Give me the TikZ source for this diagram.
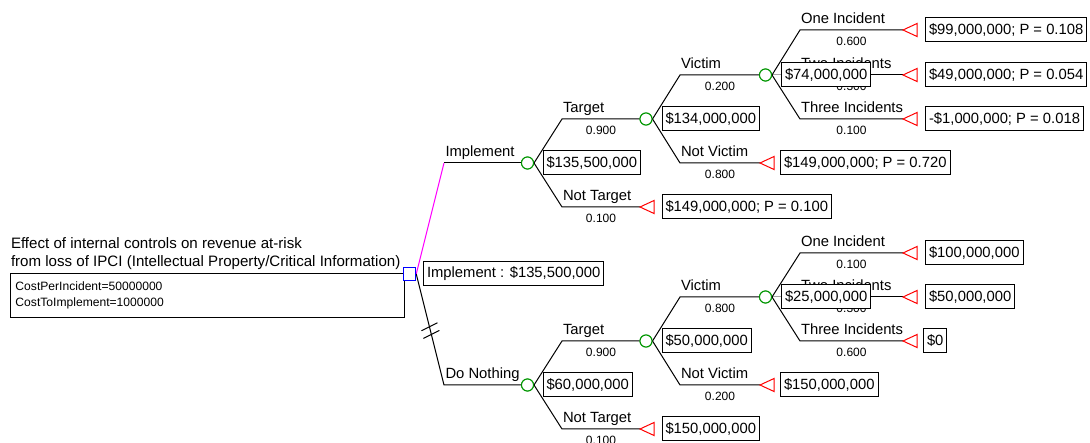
\documentclass[tikz,border=0pt]{standalone}
\usepackage{fontspec}
\setmainfont{Liberation Sans}
\definecolor{mag}{RGB}{255,0,255}
\definecolor{cgreen}{RGB}{0,150,0}
\definecolor{tred}{RGB}{255,0,0}
\definecolor{dblue}{RGB}{0,0,255}
\tikzset{
  lbl/.style={font=\fontsize{14.8}{16.7}\selectfont, anchor=base west, inner sep=0pt},
  prb/.style={font=\fontsize{12}{14}\selectfont, anchor=base, inner sep=0pt},
  valbox/.style={draw, fill=white, font=\fontsize{14.8}{16.7}\selectfont, anchor=west,
    inner xsep=3.5pt, inner ysep=0pt, minimum height=24pt},
  chance/.style={circle, draw=cgreen, fill=white, minimum size=12pt, inner sep=0pt},
  decision/.style={rectangle, draw=dblue, fill=white, minimum size=12.5pt, inner sep=0pt},
  termtri/.style={draw=tred, line join=miter},
  branch/.style={draw=black},
  implbranch/.style={draw=mag},
  titletext/.style={font=\fontsize{15.1}{17}\selectfont, anchor=base west, inner sep=0pt},
  parambox/.style={draw, anchor=north west, inner xsep=5pt, minimum height=44pt,
    font=\fontsize{12.1}{15.7}\selectfont, align=left, text width=384pt},
}
\begin{document}
\begin{tikzpicture}[x=1pt, y=-1pt, line width=1pt]
\useasboundingbox (0,0) rectangle (1090,443);

% title and parameters
\node[titletext] (title1) at (10.5,248.5) {Effect of internal controls on revenue at-risk};
\node[titletext] (title2) at (10.5,266.5) {from loss of IPCI (Intellectual Property/Critical Information)};
\node[parambox] (params) at (10,273) {CostPerIncident=50000000\\CostToImplement=1000000};

% nodes
\node[decision] (D) at (409.5,274) {};
\node[chance] (C1) at (527.5,163) {};
\node[chance] (C2) at (646,119) {};
\node[chance] (C3) at (765.5,75) {};
\node[chance] (C4) at (527.5,385) {};
\node[chance] (C5) at (646,341) {};
\node[chance] (C6) at (765.5,297) {};

% terminal apexes
\coordinate (NT1) at (640,207);
\coordinate (NV1) at (760,163);
\coordinate (T1) at (903,30);
\coordinate (T2) at (903,75);
\coordinate (T3) at (903,119);
\coordinate (NT2) at (640,429);
\coordinate (NV2) at (760,385);
\coordinate (T4) at (903,253);
\coordinate (T5) at (903,297);
\coordinate (T6) at (903,341);

% bends
\coordinate (bImp) at (444,163);
\coordinate (bDN) at (444,385);
\coordinate (bT1) at (562,119);
\coordinate (bNT1) at (562,207);
\coordinate (bV1) at (680,75);
\coordinate (bNV1) at (680,163);
\coordinate (bO1) at (800,30);
\coordinate (bTw1) at (800,75);
\coordinate (bTh1) at (800,119);
\coordinate (bT2) at (562,341);
\coordinate (bNT2) at (562,429);
\coordinate (bV2) at (680,297);
\coordinate (bNV2) at (680,385);
\coordinate (bO2) at (800,253);
\coordinate (bTw2) at (800,297);
\coordinate (bTh2) at (800,341);

% branches
\draw[implbranch] (D.east) -- (bImp);
\draw[branch] (bImp) -- (C1.west);
\draw[branch] (D.east) -- coordinate[pos=0.475] (h1) coordinate[pos=0.545] (h2) (bDN) -- (C4.west);
\draw[branch] (h1) +(-8,4) -- +(8,-4);
\draw[branch] (h2) +(-8,4) -- +(8,-4);

\draw[branch] (C1.east) -- (bT1) -- (C2.west);
\draw[branch] (C1.east) -- (bNT1) -- (NT1);
\draw[branch] (C2.east) -- (bV1) -- (C3.west);
\draw[branch] (C2.east) -- (bNV1) -- (NV1);
\draw[branch] (C3.east) -- (bO1) -- (T1);
\draw[branch] (C3.east) -- (bTw1) -- (T2);
\draw[branch] (C3.east) -- (bTh1) -- (T3);

\draw[branch] (C4.east) -- (bT2) -- (C5.west);
\draw[branch] (C4.east) -- (bNT2) -- (NT2);
\draw[branch] (C5.east) -- (bV2) -- (C6.west);
\draw[branch] (C5.east) -- (bNV2) -- (NV2);
\draw[branch] (C6.east) -- (bO2) -- (T4);
\draw[branch] (C6.east) -- (bTw2) -- (T5);
\draw[branch] (C6.east) -- (bTh2) -- (T6);

% terminal triangles
\foreach \t in {NT1,NV1,T1,T2,T3,NT2,NV2,T4,T5,T6}{
  \draw[termtri] (\t) -- ++(14,-6.5) -- ++(0,13) -- cycle;
}

% redraw node symbols on top
\node[decision] at (D) {};
\foreach \c in {C1,C2,C3,C4,C5,C6}{ \node[chance] at (\c) {}; }

% branch labels
\node[lbl] (lImp) at (445,157) {Implement};
\node[lbl] (lDN) at (445,379) {Do Nothing};
\node[lbl] (lT1) at (562.5,113) {Target};
\node[lbl] (lNT1) at (562.5,201) {Not Target};
\node[lbl] (lV1) at (680.5,69) {Victim};
\node[lbl] (lNV1) at (680.5,157) {Not Victim};
\node[lbl] (lO1) at (800.5,24) {One Incident};
\node[lbl] (lTw1) at (800.5,69) {Two Incidents};
\node[lbl] (lTh1) at (800.5,113) {Three Incidents};
\node[lbl] (lT2) at (562.5,335) {Target};
\node[lbl] (lNT2) at (562.5,423) {Not Target};
\node[lbl] (lV2) at (680.5,291) {Victim};
\node[lbl] (lNV2) at (680.5,379) {Not Victim};
\node[lbl] (lO2) at (800.5,247) {One Incident};
\node[lbl] (lTw2) at (800.5,291) {Two Incidents};
\node[lbl] (lTh2) at (800.5,335) {Three Incidents};

% probabilities
\node[prb] (pT1) at (601,135) {0.900};
\node[prb] (pNT1) at (601,223) {0.100};
\node[prb] (pV1) at (720,91) {0.200};
\node[prb] (pNV1) at (720,179) {0.800};
\node[prb] (pO1) at (851.5,46) {0.600};
\node[prb] (pTw1) at (851.5,91) {0.300};
\node[prb] (pTh1) at (851.5,135) {0.100};
\node[prb] (pT2) at (601,357) {0.900};
\node[prb] (pNT2) at (601,445) {0.100};
\node[prb] (pV2) at (720,313) {0.800};
\node[prb] (pNV2) at (720,401) {0.200};
\node[prb] (pO2) at (851.5,269) {0.100};
\node[prb] (pTw2) at (851.5,313) {0.300};
\node[prb] (pTh2) at (851.5,357) {0.600};

% value boxes
\node[valbox] (vD) at (423,274) {Implement : \$135,500,000};
\node[valbox] (vC1) at (542.5,163) {\$135,500,000};
\node[valbox] (vC2) at (661.5,119) {\$134,000,000};
\node[valbox] (vC3) at (781,75) {\$74,000,000};
\node[valbox] (vC4) at (542.5,385) {\$60,000,000};
\node[valbox] (vC5) at (661.5,341) {\$50,000,000};
\node[valbox] (vC6) at (781,297) {\$25,000,000};
\node[valbox] (vNT1) at (661.5,207) {\$149,000,000; P = 0.100};
\node[valbox] (vNV1) at (780,163) {\$149,000,000; P = 0.720};
\node[valbox] (vT1) at (925,30) {\$99,000,000; P = 0.108};
\node[valbox] (vT2) at (925,75) {\$49,000,000; P = 0.054};
\node[valbox] (vT3) at (925,119) {-\$1,000,000; P = 0.018};
\node[valbox] (vNT2) at (661.5,429) {\$150,000,000};
\node[valbox] (vNV2) at (780,385) {\$150,000,000};
\node[valbox] (vT4) at (925,253) {\$100,000,000};
\node[valbox] (vT5) at (925,297) {\$50,000,000};
\node[valbox] (vT6) at (923,341) {\$0};
\end{tikzpicture}
\end{document}
